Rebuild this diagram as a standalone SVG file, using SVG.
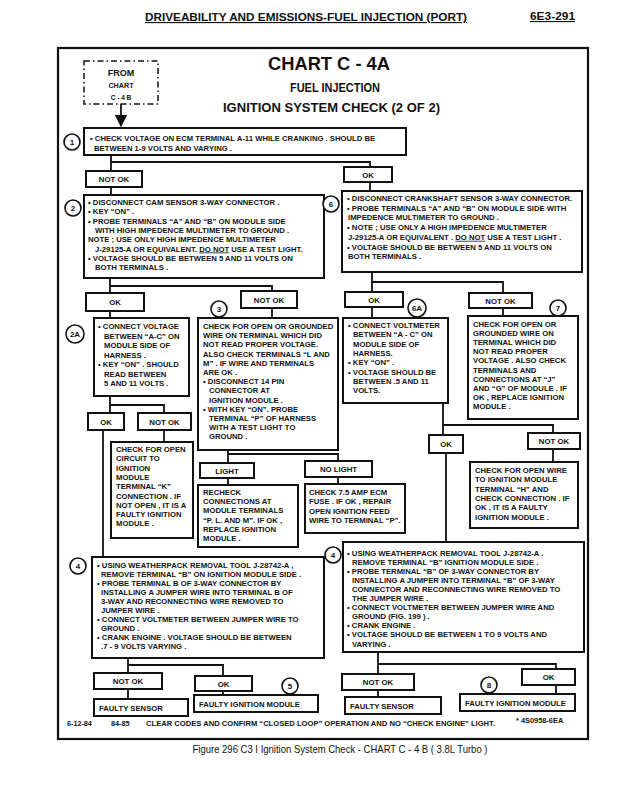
<svg xmlns="http://www.w3.org/2000/svg" width="620" height="800" viewBox="0 0 620 800">
<defs>
<style>
.b{fill:#fff;stroke:#111;stroke-width:2}
.ln{fill:none;stroke:#111;stroke-width:1.8}
.cr{fill:#fff;stroke:#111;stroke-width:1.6}
text{font-family:"Liberation Sans",Arial,sans-serif;font-weight:bold;fill:#111}
.t{font-size:7.7px}
.s{font-size:7.8px;text-anchor:middle}
.cn{font-size:8px;text-anchor:middle}
.u{text-decoration:underline}
</style>
<marker id="ah" viewBox="0 0 10 10" refX="9" refY="5" markerWidth="7" markerHeight="7" orient="auto"><path d="M0,0 L10,5 L0,10 z" fill="#111"/></marker>
</defs>
<rect width="620" height="800" fill="#fff"/>

<g id="header">
<text x="145" y="21" font-size="11.5" textLength="322" lengthAdjust="spacingAndGlyphs" class="u">DRIVEABILITY AND EMISSIONS-FUEL INJECTION (PORT)</text>
<text x="530" y="20" font-size="11" textLength="45" lengthAdjust="spacingAndGlyphs" class="u">6E3-291</text>
</g>

<rect id="frame" x="58" y="48" width="530" height="691" fill="none" stroke="#111" stroke-width="2.2"/>

<g id="title">
<text x="268" y="70" font-size="19" textLength="122" lengthAdjust="spacingAndGlyphs">CHART C - 4A</text>
<text x="290" y="92" font-size="13" textLength="90" lengthAdjust="spacingAndGlyphs">FUEL INJECTION</text>
<text x="223" y="112" font-size="13" textLength="217" lengthAdjust="spacingAndGlyphs">IGNITION SYSTEM CHECK (2 OF 2)</text>
</g>

<g id="from">
<rect x="84" y="61" width="74" height="43" fill="none" stroke="#111" stroke-width="1.5" stroke-dasharray="6,3,1.5,3"/>
<text x="121" y="76" font-size="9" text-anchor="middle">FROM</text>
<text x="121" y="88" font-size="7.2" text-anchor="middle">CHART</text>
<text x="121" y="100" font-size="6.5" text-anchor="middle">C - 4 B</text>
</g>

<g id="connectors">
<path class="ln" d="M121,104 V126" marker-end="url(#ah)"/>
<path class="ln" d="M111,155 V171 M111,162 H370 V192"/>
<path class="ln" d="M111,187 V195"/>
<path class="ln" d="M110,278 V293 M110,286 H272 V291"/>
<path class="ln" d="M110,311 V318"/>
<path class="ln" d="M272,308 V318"/>
<path class="ln" d="M372,272 V292 M372,282 H503 V293"/>
<path class="ln" d="M372,307 V318"/>
<path class="ln" d="M503,308 V316"/>
<path class="ln" d="M110,396 V413 M110,405 H164 V413"/>
<path class="ln" d="M103,430 V557"/>
<path class="ln" d="M164,430 V442"/>
<path class="ln" d="M228,450 V463 M228,454 H338 V461"/>
<path class="ln" d="M228,478 V485"/>
<path class="ln" d="M338,477 V484"/>
<path class="ln" d="M443,403 V435 M443,425 H553 V433"/>
<path class="ln" d="M553,449 V462"/>
<path class="ln" d="M446,453 V542"/>
<path class="ln" d="M128,658 V673 M128,665 H223 V676"/>
<path class="ln" d="M128,689 V699"/>
<path class="ln" d="M223,691 V695"/>
<path class="ln" d="M378,652 V674 M378,664 H556 V669"/>
<path class="ln" d="M378,690 V697"/>
<path class="ln" d="M556,685 V694"/>
</g>

<g id="n1">
<circle class="cr" cx="72" cy="142" r="8"/><text class="cn" x="72" y="145">1</text>
<rect class="b" x="84" y="128" width="322" height="27"/>
<text class="t"><tspan x="90" y="140.5">• CHECK VOLTAGE ON ECM TERMINAL  A-11  WHILE CRANKING . SHOULD BE</tspan><tspan x="94" y="151">BETWEEN 1-9 VOLTS AND VARYING .</tspan></text>
</g>

<g id="n1-notok"><rect class="b" x="86" y="171" width="56" height="16"/><text class="s" x="114" y="182">NOT OK</text></g>
<g id="n1-ok"><rect class="b" x="344" y="167" width="48" height="15"/><text class="s" x="368" y="177.5">OK</text></g>

<g id="n2">
<circle class="cr" cx="73" cy="208" r="8"/><text class="cn" x="73" y="211">2</text>
<rect class="b" x="84" y="195" width="240" height="83"/>
<text class="t"><tspan x="88" y="205">• DISCONNECT CAM SENSOR 3-WAY CONNECTOR .</tspan><tspan x="88" y="214.3">• KEY  “ON” .</tspan><tspan x="88" y="223.6">• PROBE TERMINALS “A” AND “B” ON MODULE SIDE</tspan><tspan x="95" y="232.9">WITH HIGH IMPEDENCE MULTIMETER TO GROUND .</tspan><tspan x="88" y="242.2">NOTE ; USE ONLY HIGH IMPEDENCE MULTIMETER</tspan><tspan x="95" y="251.5">J-29125-A OR EQUIVALENT. </tspan><tspan class="u">DO NOT</tspan><tspan> USE A TEST LIGHT.</tspan><tspan x="88" y="260.8">• VOLTAGE SHOULD BE BETWEEN 5 AND 11 VOLTS ON</tspan><tspan x="95" y="270.1">BOTH TERMINALS .</tspan></text>
</g>

<g id="n6">
<circle class="cr" cx="331" cy="204" r="8"/><text class="cn" x="331" y="207">6</text>
<rect class="b" x="342" y="191" width="240" height="81"/>
<text class="t"><tspan x="347" y="201">• DISCONNECT CRANKSHAFT SENSOR 3-WAY CONNECTOR.</tspan><tspan x="347" y="210.7">• PROBE TERMINALS “A” AND “B” ON MODULE SIDE WITH</tspan><tspan x="348" y="220.4">IMPEDENCE MULTIMETER TO GROUND .</tspan><tspan x="347" y="230.1">• NOTE ; USE ONLY A HIGH IMPEDENCE MULTIMETER</tspan><tspan x="348" y="239.8">J-29125-A OR EQUIVALENT . </tspan><tspan class="u">DO NOT</tspan><tspan> USE A TEST LIGHT .</tspan><tspan x="347" y="249.5">• VOLTAGE SHOULD BE BETWEEN 5 AND 11 VOLTS ON</tspan><tspan x="348" y="259.2">BOTH TERMINALS .</tspan></text>
</g>

<g id="n2-ok"><rect class="b" x="86" y="293" width="58" height="18"/><text class="s" x="115" y="305">OK</text></g>
<g id="n2-notok"><rect class="b" x="241" y="291" width="56" height="17"/><text class="s" x="269" y="302.5">NOT OK</text></g>

<g id="n2a">
<circle class="cr" cx="75" cy="334" r="9"/><text class="cn" x="75" y="337" font-size="7.5">2A</text>
<rect class="b" x="94" y="318" width="95" height="78"/>
<text class="t"><tspan x="98" y="329">• CONNECT VOLTAGE</tspan><tspan x="104" y="338.5">BETWEEN “A-C” ON</tspan><tspan x="104" y="348">MODULE SIDE OF</tspan><tspan x="104" y="357.5">HARNESS .</tspan><tspan x="98" y="367">• KEY  “ON” . SHOULD</tspan><tspan x="104" y="376.5">READ BETWEEN</tspan><tspan x="104" y="386">5  AND 11  VOLTS .</tspan></text>
</g>

<g id="n3">
<circle class="cr" cx="219" cy="309" r="8"/><text class="cn" x="219" y="312">3</text>
<rect class="b" x="198" y="318" width="140" height="132"/>
<text class="t"><tspan x="203" y="329">CHECK FOR OPEN OR GROUNDED</tspan><tspan x="203" y="338.2">WIRE ON TERMINAL WHICH DID</tspan><tspan x="203" y="347.4">NOT READ PROPER VOLTAGE.</tspan><tspan x="203" y="356.6">ALSO CHECK TERMINALS “L AND</tspan><tspan x="203" y="365.8">M” . IF WIRE AND TERMINALS</tspan><tspan x="203" y="375">ARE OK .</tspan><tspan x="203" y="384.2">• DISCONNECT 14 PIN</tspan><tspan x="209" y="393.4">CONNECTOR AT</tspan><tspan x="209" y="402.6">IGNITION MODULE .</tspan><tspan x="203" y="411.8">• WITH KEY  “ON”. PROBE</tspan><tspan x="209" y="421">TERMINAL “P” OF HARNESS</tspan><tspan x="209" y="430.2">WITH A TEST LIGHT TO</tspan><tspan x="209" y="439.4">GROUND .</tspan></text>
</g>

<g id="n6-ok"><rect class="b" x="345" y="292" width="58" height="15"/><text class="s" x="374" y="302.5">OK</text></g>
<g id="n6-notok"><rect class="b" x="469" y="293" width="63" height="15"/><text class="s" x="500.5" y="303.5">NOT OK</text></g>

<g id="n6a">
<circle class="cr" cx="417" cy="308" r="9"/><text class="cn" x="417" y="311" font-size="7.5">6A</text>
<rect class="b" x="343" y="318" width="105" height="85"/>
<text class="t"><tspan x="348" y="328">• CONNECT VOLTMETER</tspan><tspan x="353" y="337.3">BETWEEN “A - C” ON</tspan><tspan x="353" y="346.6">MODULE SIDE OF</tspan><tspan x="353" y="355.9">HARNESS.</tspan><tspan x="348" y="365.2">• KEY  “ON” .</tspan><tspan x="348" y="374.5">• VOLTAGE SHOULD BE</tspan><tspan x="353" y="383.8">BETWEEN .5 AND 11</tspan><tspan x="353" y="393.1">VOLTS.</tspan></text>
</g>

<g id="n7">
<circle class="cr" cx="558" cy="308" r="8"/><text class="cn" x="558" y="311">7</text>
<rect class="b" x="468" y="316" width="110" height="103"/>
<text class="t"><tspan x="473" y="327">CHECK FOR OPEN OR</tspan><tspan x="473" y="336.1">GROUNDED WIRE ON</tspan><tspan x="473" y="345.2">TERMINAL WHICH DID</tspan><tspan x="473" y="354.3">NOT READ PROPER</tspan><tspan x="473" y="363.4">VOLTAGE . ALSO CHECK</tspan><tspan x="473" y="372.5">TERMINALS AND</tspan><tspan x="473" y="381.6">CONNECTIONS AT “J”</tspan><tspan x="473" y="390.7">AND “G” OF MODULE . IF</tspan><tspan x="473" y="399.8">OK , REPLACE IGNITION</tspan><tspan x="473" y="408.9">MODULE .</tspan></text>
</g>

<g id="n2a-ok"><rect class="b" x="88" y="413" width="36" height="17"/><text class="s" x="106" y="424.5">OK</text></g>
<g id="n2a-notok"><rect class="b" x="138" y="413" width="53" height="17"/><text class="s" x="164.5" y="424.5">NOT OK</text></g>

<g id="n2a-check">
<rect class="b" x="111" y="442" width="82" height="96"/>
<text class="t"><tspan x="116" y="452">CHECK FOR OPEN</tspan><tspan x="116" y="461.3">CIRCUIT TO</tspan><tspan x="116" y="470.6">IGNITION</tspan><tspan x="116" y="479.9">MODULE</tspan><tspan x="116" y="489.2">TERMINAL “K”</tspan><tspan x="116" y="498.5">CONNECTION . IF</tspan><tspan x="116" y="507.8">NOT OPEN , IT IS A</tspan><tspan x="116" y="517.1">FAULTY IGNITION</tspan><tspan x="116" y="526.4">MODULE .</tspan></text>
</g>

<g id="n3-light"><rect class="b" x="200" y="463" width="54" height="15"/><text class="s" x="227" y="473.5">LIGHT</text></g>
<g id="n3-nolight"><rect class="b" x="305" y="461" width="67" height="16"/><text class="s" x="338.5" y="472">NO LIGHT</text></g>

<g id="n3-recheck">
<rect class="b" x="198" y="485" width="100" height="62"/>
<text class="t"><tspan x="203" y="495">RECHECK</tspan><tspan x="203" y="504.2">CONNECTIONS AT</tspan><tspan x="203" y="513.4">MODULE TERMINALS</tspan><tspan x="203" y="522.6">“P. L. AND M”. IF OK ,</tspan><tspan x="203" y="531.8">REPLACE IGNITION</tspan><tspan x="203" y="541">MODULE .</tspan></text>
</g>

<g id="n3-fuse">
<rect class="b" x="305" y="484" width="100" height="49"/>
<text class="t"><tspan x="309" y="494.5">CHECK 7.5 AMP ECM</tspan><tspan x="309" y="504">FUSE . IF OK , REPAIR</tspan><tspan x="309" y="513.5">OPEN IGNITION FEED</tspan><tspan x="309" y="523">WIRE TO TERMINAL “P”.</tspan></text>
</g>

<g id="n6a-ok"><rect class="b" x="429" y="435" width="34" height="18"/><text class="s" x="446" y="447">OK</text></g>
<g id="n6a-notok"><rect class="b" x="528" y="433" width="52" height="16"/><text class="s" x="554" y="444">NOT OK</text></g>

<g id="n6a-check">
<rect class="b" x="470" y="462" width="108" height="66"/>
<text class="t"><tspan x="475" y="473">CHECK FOR OPEN WIRE</tspan><tspan x="475" y="482.3">TO IGNITION MODULE</tspan><tspan x="475" y="491.6">TERMINAL “H” AND</tspan><tspan x="475" y="500.9">CHECK CONNECTION . IF</tspan><tspan x="475" y="510.2">OK , IT IS A FAULTY</tspan><tspan x="475" y="519.5">IGNITION MODULE .</tspan></text>
</g>

<g id="n4-left">
<circle class="cr" cx="78" cy="566" r="8"/><text class="cn" x="78" y="569">4</text>
<rect class="b" x="92" y="557" width="232" height="101"/>
<text class="t"><tspan x="97" y="567.5">• USING WEATHERPACK REMOVAL TOOL J-28742-A ,</tspan><tspan x="101" y="576.6">REMOVE TERMINAL “B” ON IGNITION MODULE SIDE .</tspan><tspan x="97" y="585.7">• PROBE TERMINAL B OF 3-WAY CONNECTOR BY</tspan><tspan x="101" y="594.8">INSTALLING A JUMPER WIRE INTO TERMINAL B OF</tspan><tspan x="101" y="603.9">3-WAY AND RECONNECTING WIRE REMOVED TO</tspan><tspan x="101" y="613">JUMPER WIRE .</tspan><tspan x="97" y="622.1">• CONNECT VOLTMETER BETWEEN JUMPER WIRE TO</tspan><tspan x="101" y="631.2">GROUND .</tspan><tspan x="97" y="640.3">• CRANK ENGINE . VOLTAGE SHOULD BE BETWEEN</tspan><tspan x="101" y="649.4">.7 - 9 VOLTS VARYING .</tspan></text>
</g>

<g id="n4-right">
<circle class="cr" cx="333" cy="555" r="8"/><text class="cn" x="333" y="558">4</text>
<rect class="b" x="343" y="542" width="241" height="110"/>
<text class="t"><tspan x="347" y="555.5">• USING WEATHERPACK REMOVAL TOOL J-28742-A .</tspan><tspan x="352" y="564.6">REMOVE TERMINAL “B” IGNITION MODULE SIDE .</tspan><tspan x="347" y="573.7">• PROBE TERMINAL “B” OF 3-WAY CONNECTOR BY</tspan><tspan x="352" y="582.8">INSTALLING A JUMPER INTO TERMINAL “B” OF 3-WAY</tspan><tspan x="352" y="591.9">CONNECTOR AND RECONNECTING WIRE REMOVED TO</tspan><tspan x="352" y="601">THE JUMPER WIRE .</tspan><tspan x="347" y="610.1">• CONNECT VOLTMETER BETWEEN JUMPER WIRE AND</tspan><tspan x="352" y="619.2">GROUND (FIG. 199 ) .</tspan><tspan x="347" y="628.3">• CRANK ENGINE .</tspan><tspan x="347" y="637.4">• VOLTAGE SHOULD BE BETWEEN 1 TO 9  VOLTS AND</tspan><tspan x="352" y="646.5">VARYING .</tspan></text>
</g>

<g id="n4l-notok"><rect class="b" x="94" y="673" width="68" height="16"/><text class="s" x="128" y="684">NOT OK</text></g>
<g id="n4l-ok"><rect class="b" x="195" y="676" width="57" height="15"/><text class="s" x="223.5" y="686.5">OK</text></g>
<g id="n5"><circle class="cr" cx="290" cy="686" r="8"/><text class="cn" x="290" y="689">5</text></g>
<g id="n4l-sensor"><rect class="b" x="94" y="699" width="94" height="17"/><text class="t" x="99" y="710.5">FAULTY SENSOR</text></g>
<g id="n4l-module"><rect class="b" x="194" y="695" width="124" height="17"/><text class="t" x="199" y="706.5">FAULTY IGNITION MODULE</text></g>

<g id="n4r-notok"><rect class="b" x="342" y="674" width="72" height="16"/><text class="s" x="378" y="685">NOT OK</text></g>
<g id="n4r-ok"><rect class="b" x="522" y="669" width="53" height="16"/><text class="s" x="548.5" y="680">OK</text></g>
<g id="n8"><circle class="cr" cx="489" cy="685" r="8"/><text class="cn" x="489" y="688">8</text></g>
<g id="n4r-sensor"><rect class="b" x="345" y="697" width="96" height="17"/><text class="t" x="350" y="708.5">FAULTY SENSOR</text></g>
<g id="n4r-module"><rect class="b" x="460" y="694" width="115" height="17"/><text class="t" x="465" y="705.5">FAULTY IGNITION MODULE</text></g>

<g id="footer">
<text x="67" y="726" font-size="7.2">6-12-84</text>
<text x="111" y="726" font-size="7.2">84-85</text>
<text x="146" y="726" font-size="7.4" textLength="349" lengthAdjust="spacingAndGlyphs">CLEAR CODES AND CONFIRM “CLOSED LOOP” OPERATION AND NO “CHECK ENGINE” LIGHT.</text>
<text x="516" y="723" font-size="7.4">* 4S0958-6EA</text>
</g>
<text id="caption" x="340" y="753" font-size="11" text-anchor="middle" textLength="295" lengthAdjust="spacingAndGlyphs" style="font-weight:normal">Figure 296  C3 I Ignition System Check - CHART C - 4 B ( 3.8L Turbo )</text>
</svg>
